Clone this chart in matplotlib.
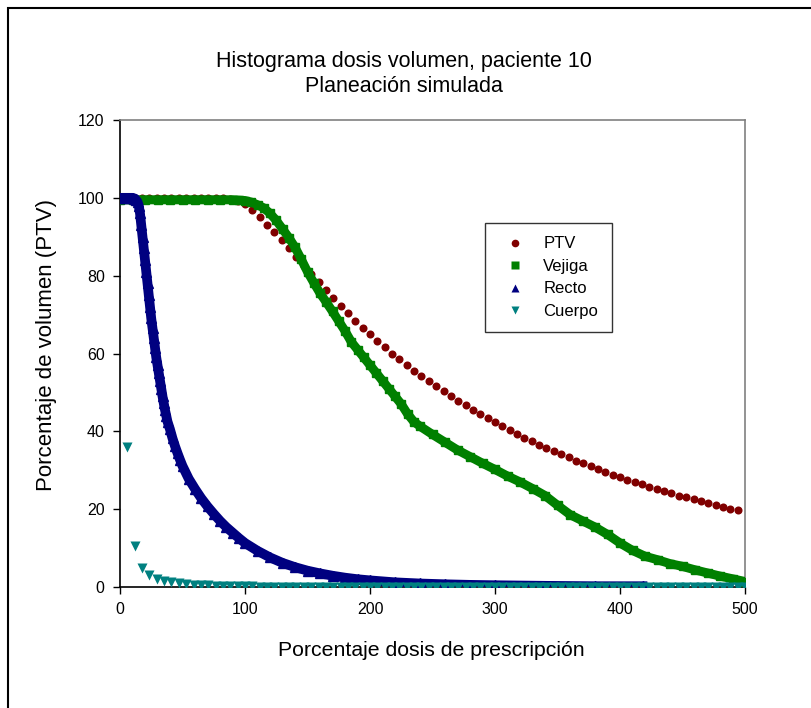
import numpy as np
import matplotlib
matplotlib.use("Agg")
import matplotlib.pyplot as plt
from matplotlib.patches import Rectangle

plt.rcParams['font.family'] = ['Liberation Sans', 'DejaVu Sans']

title = "Histograma dosis volumen, paciente 10\nPlaneación simulada"
xlabel = "Porcentaje dosis de prescripción"
ylabel = "Porcentaje de volumen (PTV)"
series_names = ["PTV", "Vejiga", "Recto", "Cuerpo"]
x_ticks = [0, 100, 200, 300, 400, 500]
y_ticks = [0, 20, 40, 60, 80, 100, 120]

# dose bins (percent of prescription) for PTV and Cuerpo
bin_x = np.arange(1, 86) * 100 / 17

ptv_y = [100, 100, 100, 100, 100, 100, 100, 100, 100, 100, 100, 100, 100,
         99.9, 99.7, 99.2, 98.3, 96.8, 95.0, 93.1, 91.2, 89.2, 87.0, 84.8,
         82.6, 80.5, 78.4, 76.3, 74.3, 72.3, 70.3, 68.4, 66.6, 64.9, 63.2,
         61.6, 60.0, 58.5, 57.0, 55.6, 54.2, 52.9, 51.6, 50.3, 49.1, 47.9,
         46.7, 45.6, 44.5, 43.4, 42.3, 41.3, 40.3, 39.3, 38.4, 37.5, 36.6,
         35.7, 34.9, 34.1, 33.3, 32.5, 31.8, 31.0, 30.3, 29.6, 28.9, 28.3,
         27.6, 27.0, 26.4, 25.8, 25.2, 24.6, 24.1, 23.5, 23.0, 22.5, 22.0,
         21.5, 21.0, 20.6, 20.1, 19.7]

cuerpo_y = [36.0, 10.5, 5.0, 3.0, 2.0, 1.5, 1.2, 1.0, 0.8, 0.6, 0.5, 0.4,
            0.35, 0.3, 0.25, 0.2, 0.18, 0.15, 0.12, 0.1, 0.1, 0.08, 0.07,
            0.06, 0.05, 0.05, 0.04, 0.04, 0.03, 0.03, 0.03, 0.02, 0.02, 0.02,
            0.02, 0.02, 0.01, 0.01, 0.01, 0.01, 0.01, 0.01, 0.01, 0.01, 0.01,
            0.01, 0.01, 0.01, 0.01, 0.01, 0.01, 0.01, 0.01, 0.01, 0.01, 0.01,
            0.01, 0.01, 0.01, 0.01, 0.01, 0.01, 0.01, 0.01, 0.01, 0.01, 0.01,
            0.01, 0.01, 0.01, 0.01, 0.01, 0.01, 0.01, 0.01, 0.01, 0.01, 0.01,
            0.01, 0.01, 0.01, 0.01, 0.01, 0.01, 0.01]

vejiga_x = [0, 10, 20, 30, 40, 50, 60, 70, 80, 90, 95, 100, 105, 110, 115,
            120, 125, 130, 135, 140, 145, 150, 155, 160, 165, 170, 175, 180,
            185, 190, 195, 200, 205, 210, 215, 220, 225, 230, 235, 240, 250,
            260, 270, 280, 290, 300, 310, 320, 330, 340, 350, 360, 370, 380,
            390, 400, 410, 420, 430, 440, 450, 460, 470, 480, 490, 500]
vejiga_y = [99.5, 99.5, 99.5, 99.5, 99.5, 99.5, 99.5, 99.5, 99.5, 99.5, 99.4,
            99.3, 98.9, 98.2, 97.4, 96.0, 94.2, 92.0, 89.8, 87.3, 84.2, 81.0,
            78.2, 75.5, 73.2, 70.8, 68.3, 65.8, 63.0, 61.0, 59.0, 57.0, 55.0,
            53.0, 51.0, 49.0, 47.0, 44.5, 42.5, 41.3, 39.2, 37.2, 35.2, 33.5,
            31.8, 30.2, 28.5, 27.0, 25.3, 23.5, 21.0, 18.6, 17.0, 15.4, 13.5,
            11.3, 9.4, 7.9, 7.0, 6.0, 5.3, 4.4, 3.6, 2.8, 2.1, 1.4]

recto_x = [0, 4, 8, 10, 12, 13, 14, 15, 16, 17, 18, 19, 20, 21, 22, 23, 24,
           25, 26, 27, 28, 29, 30, 31, 32, 33, 34, 35, 36, 37, 38, 40, 42, 44,
           46, 48, 50, 55, 60, 65, 70, 75, 80, 85, 90, 95, 100, 110, 120, 130,
           140, 150, 160, 170, 180, 190, 200, 220, 240, 260, 280, 300, 340,
           380, 418]
recto_y = [100, 100, 100, 100, 99.8, 99.4, 99, 98, 96, 93, 90, 87, 84, 81,
           78, 75, 72, 69, 66.5, 64, 61.5, 59, 57, 55, 53, 51, 49, 47.2, 45.5,
           44, 42.5, 40.5, 38.2, 36.2, 34.4, 32.7, 31.1, 27.8, 25.2, 22.8, 20.7,
           18.8, 17.0, 15.4, 14.0, 12.6, 11.3, 9.3, 7.6, 6.2, 5.1, 4.2, 3.5,
           2.9, 2.4, 2.0, 1.7, 1.2, 0.9, 0.7, 0.55, 0.45, 0.3, 0.2, 0.2]

colors = {"PTV": "#800000", "Vejiga": "#008000", "Recto": "#000080", "Cuerpo": "#008080"}

W, H = 811, 708
fig = plt.figure(figsize=(W / 100, H / 100), dpi=100)
ax = fig.add_axes([120 / W, (H - 587) / H, (745 - 120) / W, (587 - 120) / H])

# dense series drawn as thick bands plus markers
ax.plot(vejiga_x, vejiga_y, '-', color=colors["Vejiga"], lw=6.5, zorder=3)
ax.plot(vejiga_x, vejiga_y, 's', color=colors["Vejiga"], ms=6, zorder=3)
ax.plot(recto_x, recto_y, '-', color=colors["Recto"], lw=7, zorder=4)
ax.plot(recto_x, recto_y, '^', color=colors["Recto"], ms=6.5, zorder=4)
ax.plot(bin_x[:len(ptv_y)], ptv_y, 'o', color=colors["PTV"], ms=5.8, mec='none', zorder=2)
ax.plot(bin_x[:len(cuerpo_y)], cuerpo_y, 'v', color=colors["Cuerpo"], ms=6.5, mec='none', zorder=5)

handles = [
    plt.Line2D([], [], ls='none', marker='o', color=colors["PTV"], ms=5.5, mec='none'),
    plt.Line2D([], [], ls='none', marker='s', color=colors["Vejiga"], ms=5.5, mec='none'),
    plt.Line2D([], [], ls='none', marker='^', color=colors["Recto"], ms=5.5, mec='none'),
    plt.Line2D([], [], ls='none', marker='v', color=colors["Cuerpo"], ms=5.5, mec='none'),
]
leg = ax.legend(handles, series_names, loc='upper left',
                bbox_to_anchor=((485 - 120) / 625, (587 - 223) / 467),
                frameon=True, fancybox=False, edgecolor='black', fontsize=12,
                handlelength=2.0, handletextpad=0.7, borderpad=0.8,
                labelspacing=0.45, borderaxespad=0)
leg.get_frame().set_linewidth(1.0)

ax.set_xlim(0, 500)
ax.set_ylim(0, 120)
ax.set_xticks(x_ticks)
ax.set_yticks(y_ticks)
ax.tick_params(direction='out', length=5, width=1, labelsize=11.5, pad=6)
for s in ['left', 'bottom']:
    ax.spines[s].set_color('black')
    ax.spines[s].set_linewidth(1.2)
for s in ['top', 'right']:
    ax.spines[s].set_color('#808080')
    ax.spines[s].set_linewidth(1.2)

fig.text(404 / W, 1 - 74 / H, title, ha='center', va='center', fontsize=15.5, linespacing=1.3)
fig.text(431 / W, 1 - 650 / H, xlabel, ha='center', va='center', fontsize=15.3)
fig.text(47 / W, 1 - 345 / H, ylabel, ha='center', va='center', rotation=90, fontsize=16)

fig.add_artist(Rectangle((8 / W, -0.1), 1.1, 1 - 8 / H + 0.1, transform=fig.transFigure,
                         fill=False, ec='black', lw=1.5))

fig.savefig("out.png", dpi=100)
